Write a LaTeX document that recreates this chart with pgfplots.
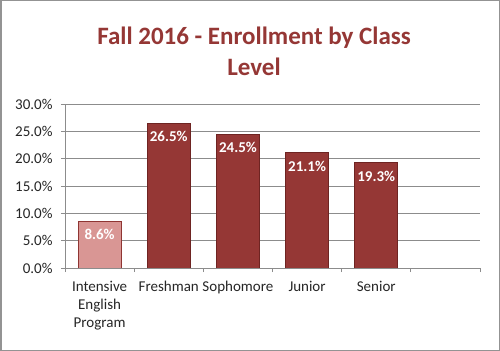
\documentclass[border=0pt]{standalone}
\usepackage{pgfplots}
\pgfplotsset{compat=1.18}
\usepackage{fontspec}
\setmainfont{Carlito}
\definecolor{barred}{HTML}{953735}
\definecolor{baredge}{HTML}{6E2422}
\definecolor{barpink}{HTML}{D99694}
\definecolor{pinkedge}{HTML}{8F3533}
\definecolor{gridgray}{HTML}{8C8C8C}
\definecolor{txt}{HTML}{262626}
\definecolor{titlered}{HTML}{953735}
\begin{document}
\begin{tikzpicture}
\useasboundingbox (0,0) rectangle (500bp,351bp);
\fill[white] (0,0) rectangle (500bp,351bp);
\draw[line width=1.5bp, color=gray!85] (0.75bp,0.75bp) rectangle (499.25bp,350.25bp);
\node[anchor=base, text=titlered, font=\fontsize{25bp}{31bp}\selectfont\bfseries] at (254bp,306bp) {Fall 2016 - Enrollment by Class};
\node[anchor=base, text=titlered, font=\fontsize{25bp}{31bp}\selectfont\bfseries] at (254bp,275bp) {Level};
\begin{axis}[
  at={(65bp,83bp)}, anchor=south west,
  scale only axis, width=415bp, height=164bp,
  xmin=-0.5, xmax=5.5, ymin=0, ymax=30,
  axis x line*=bottom, axis y line*=left,
  axis line style={gridgray, line width=0.8bp, -},
  xtick={-0.5,0.5,1.5,2.5,3.5,4.5,5.5},
  xticklabels={,,,,,,},
  extra x ticks={0,1,2,3,4},
  extra x tick labels={Intensive\\English\\Program, Freshman, Sophomore, Junior, Senior},
  extra x tick style={major tick length=0pt, grid=none,
    tick label style={align=center, yshift=-10bp}},
  ytick={0,5,...,30},
  ymajorgrids, grid style={gridgray, line width=0.8bp},
  tick align=outside, major tick length=4bp,
  tick style={gridgray, line width=0.8bp},
  /pgf/number format/assume math mode=true,
  yticklabel={\pgfmathprintnumber[fixed,fixed zerofill,precision=1]{\tick}\%},
  yticklabel style={xshift=-5bp},
  tick label style={text=txt, font=\fontsize{15bp}{17.8bp}\selectfont},
  nodes near coords={\pgfmathprintnumber[fixed,fixed zerofill,precision=1]{\pgfplotspointmeta}\%},
  nodes near coords style={anchor=north, yshift=-4.5bp, text=white, font=\fontsize{15bp}{17bp}\selectfont\bfseries},
]
\addplot[ybar, bar width=43bp, bar shift=0pt, fill=barpink, draw=pinkedge, line width=0.8bp] coordinates {(0,8.6)};
\addplot[ybar, bar width=43bp, bar shift=0pt, fill=barred, draw=baredge, line width=0.8bp] coordinates {(1,26.5) (2,24.5) (3,21.1) (4,19.3)};
\end{axis}
\end{tikzpicture}
\end{document}
